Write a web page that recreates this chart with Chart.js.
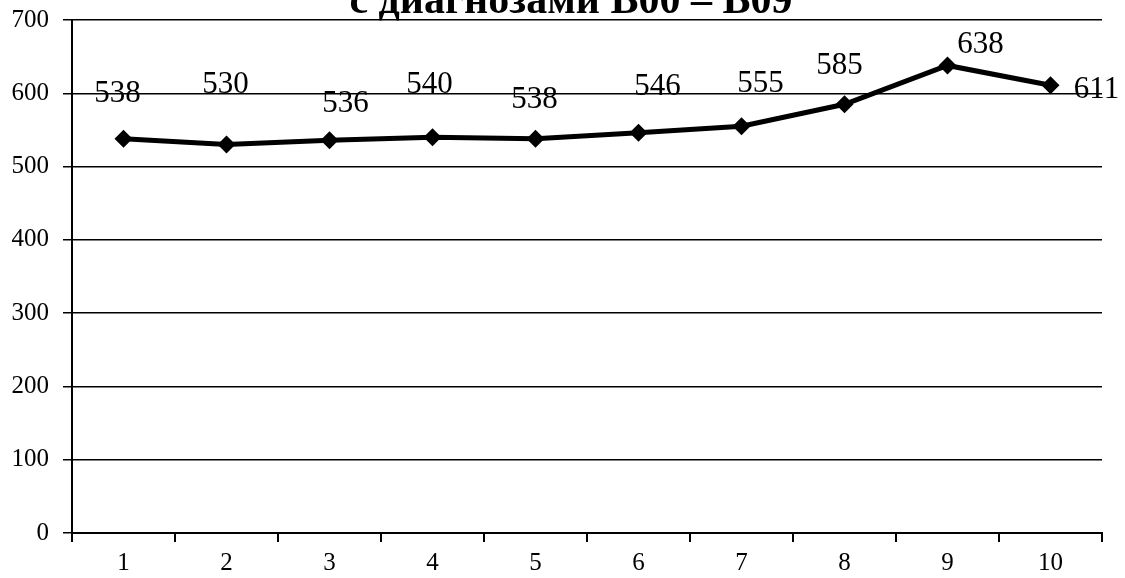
<!DOCTYPE html>
<html>
<head>
<meta charset="utf-8">
<script src="https://cdn.jsdelivr.net/npm/chart.js@4/dist/chart.umd.min.js"></script>
<style>
  html, body { margin: 0; padding: 0; background: #fff; }
  #wrap { width: 1125px; height: 578px; position: relative; }
</style>
</head>
<body>
<div id="wrap"><canvas id="chart"></canvas></div>
<script>
// ── Data ──────────────────────────────────────────────────────────
const CATEGORIES = ['1', '2', '3', '4', '5', '6', '7', '8', '9', '10'];
const VALUES     = [538, 530, 536, 540, 538, 546, 555, 585, 638, 611];
const Y_TICKS    = [0, 100, 200, 300, 400, 500, 600, 700];
const TITLE_LINE = 'с диагнозами B00 – B09';

// label nudges (px) relative to each point, as placed in the original
const LABEL_NUDGE = [
  [-6, -37], [-1, -52], [16, -28], [-3, -44], [-1, -31],
  [19, -38], [19, -34], [-5, -30], [33, -12], [46, 13],
];

const SERIF = '"Liberation Serif", "DejaVu Serif", serif';

// title is cut off by the top edge, only its last line shows
const clippedTitle = {
  id: 'clippedTitle',
  afterDraw(chart) {
    const ctx = chart.ctx;
    ctx.save();
    ctx.font = 'bold 42px ' + SERIF;
    ctx.fillStyle = '#000';
    ctx.textAlign = 'center';
    ctx.textBaseline = 'alphabetic';
    ctx.fillText(TITLE_LINE, 571, 13);
    ctx.restore();
  }
};

const valueLabels = {
  id: 'valueLabels',
  afterDatasetsDraw(chart) {
    const ctx  = chart.ctx;
    const meta = chart.getDatasetMeta(0);
    ctx.save();
    ctx.font = '31px ' + SERIF;
    ctx.fillStyle = '#000';
    ctx.textAlign = 'center';
    ctx.textBaseline = 'alphabetic';
    meta.data.forEach((pt, i) => {
      const [dx, dy] = LABEL_NUDGE[i];
      ctx.fillText(String(VALUES[i]), pt.x + dx, pt.y + dy);
    });
    ctx.restore();
  }
};

new Chart(document.getElementById('chart'), {
  type: 'line',
  data: {
    labels: CATEGORIES,
    datasets: [{
      data:                 VALUES,
      borderColor:          '#000',
      backgroundColor:      '#000',
      borderWidth:          5,
      tension:              0,
      pointStyle:           'rectRot',
      pointRadius:          9,
      pointBackgroundColor: '#000',
      pointBorderColor:     '#000',
      pointBorderWidth:     0,
    }]
  },
  options: {
    responsive:          true,
    maintainAspectRatio: false,
    animation:           false,
    layout: { padding: { top: 20, right: 23, left: 0, bottom: 0 } },
    plugins: {
      legend:  { display: false },
      tooltip: { enabled: false },
    },
    scales: {
      x: {
        offset: true,
        grid:   { offset: true, drawOnChartArea: false, drawTicks: true, tickLength: 9, color: '#000', lineWidth: 2 },
        border: { color: '#000', width: 2 },
        ticks:  { color: '#000', font: { family: SERIF, size: 25 }, padding: 6, maxRotation: 0 },
        afterFit: s => { s.height = 45; s.paddingLeft = 0; s.paddingRight = 0; },
      },
      y: {
        min: 0, max: 700,
        afterBuildTicks: s => { s.ticks = Y_TICKS.map(v => ({ value: v })); },
        grid:   { color: '#000', lineWidth: 1.5, tickLength: 9 },
        border: { color: '#000', width: 2 },
        ticks:  { color: '#000', font: { family: SERIF, size: 25 }, padding: 14 },
        afterFit: s => { s.width = 72; s.paddingTop = 0; s.paddingBottom = 0; },
      }
    }
  },
  plugins: [clippedTitle, valueLabels]
});
</script>
</body>
</html>
